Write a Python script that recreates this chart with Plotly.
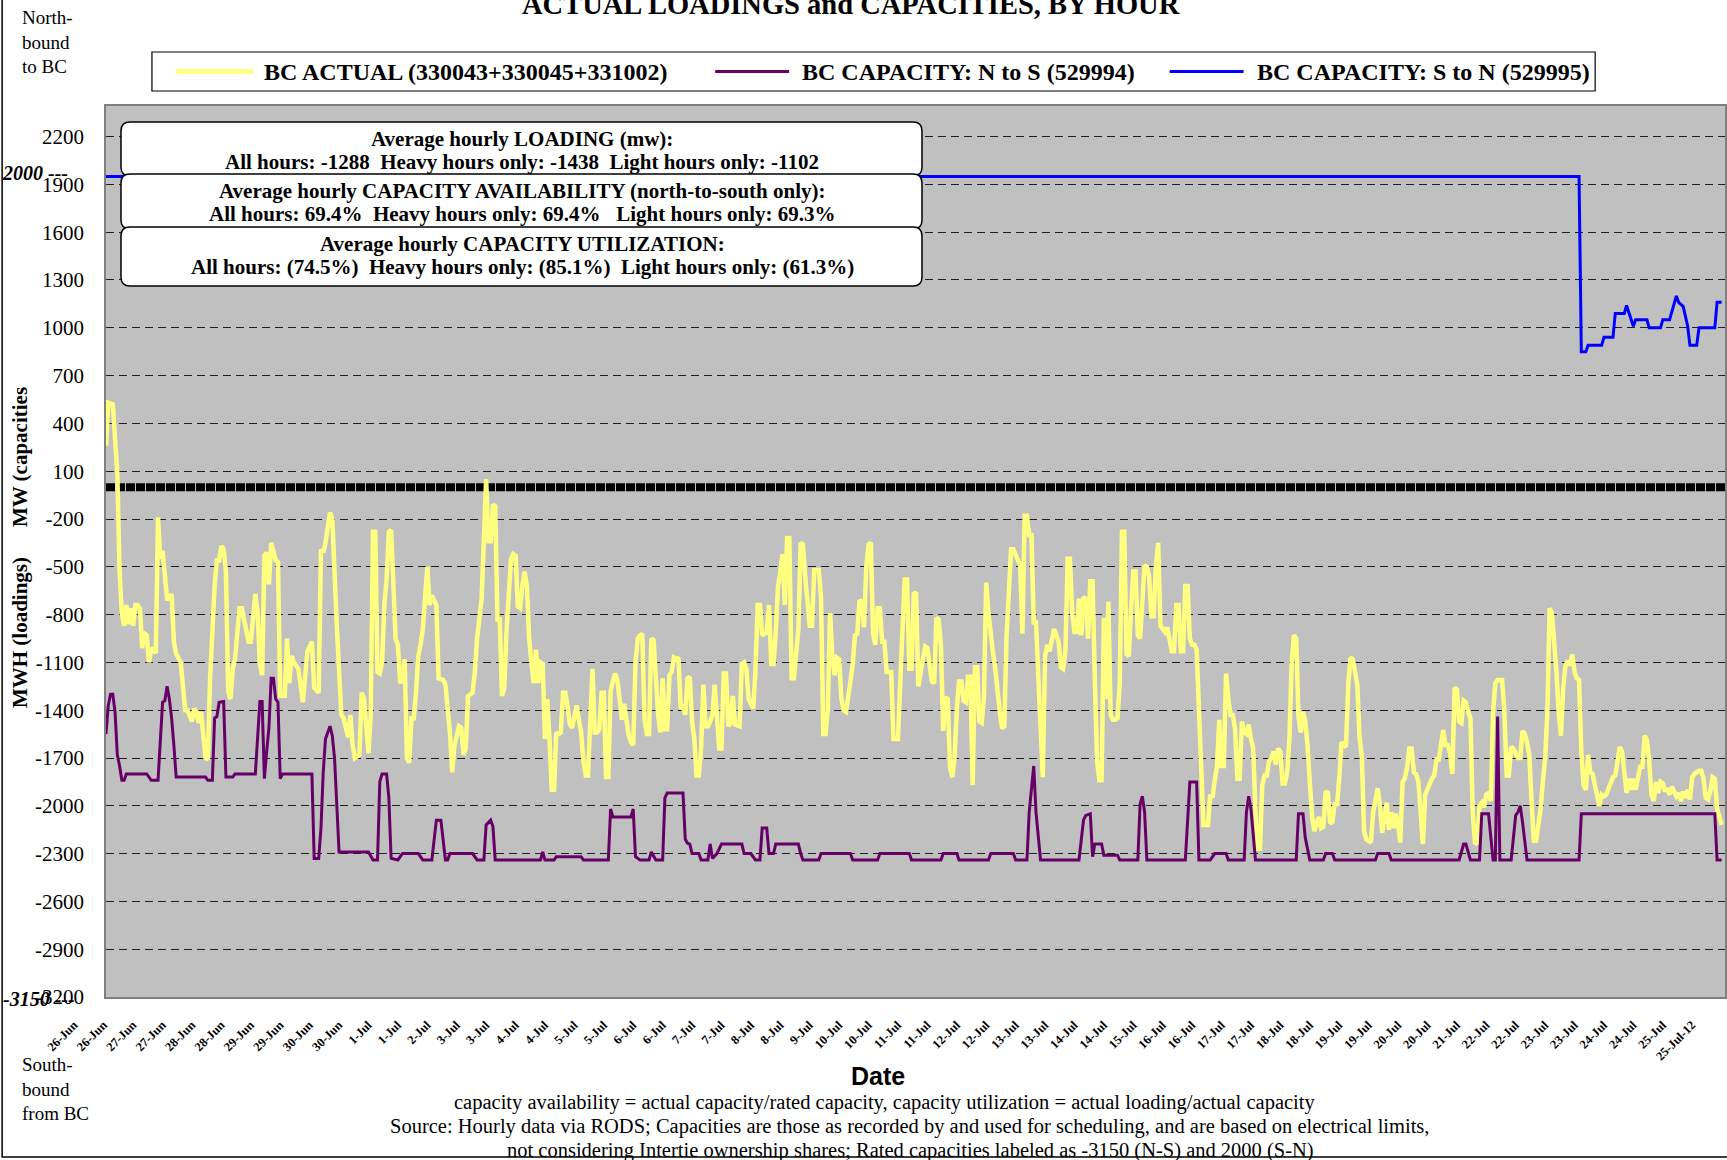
import plotly.graph_objects as go

# ---------------- data ----------------
# hour index from 26-Jun-2012 00:00 ; values in MW
yellow_hours = [
    0, 1, 3, 4, 5, 6, 7, 8, 9, 10, 11, 12, 13, 14, 15, 16, 17, 18, 19, 20, 22, 23, 24, 25, 26, 27, 28, 29, 30, 31,
    33, 34, 35, 36, 38, 39, 40, 41, 42, 44, 45, 46, 47, 48, 49, 50, 51, 52, 53, 54, 55, 56, 57, 58, 59, 60, 62, 63,
    64, 66, 67, 68, 69, 70, 71, 72, 73, 74, 75, 76, 77, 79, 80, 81, 82, 83, 85, 87, 88, 89, 91, 92, 94, 95, 96, 97,
    99, 100, 102, 103, 104, 105, 107, 108, 109, 110, 112, 113, 114, 116, 117, 118, 119, 120, 121, 122, 123, 124,
    125, 126, 127, 128, 129, 130, 131, 132, 133, 134, 135, 136, 137, 138, 139, 140, 142, 143, 144, 146, 147, 149,
    150, 151, 152, 153, 154, 156, 157, 158, 159, 160, 162, 163, 164, 166, 167, 168, 169, 170, 171, 172, 173, 174,
    175, 176, 177, 178, 179, 180, 181, 182, 183, 184, 185, 186, 187, 188, 189, 190, 191, 192, 193, 194, 195, 196,
    197, 198, 199, 200, 201, 202, 203, 204, 205, 206, 208, 209, 210, 211, 212, 213, 214, 215, 216, 217, 218, 219,
    220, 221, 222, 223, 224, 225, 226, 227, 228, 229, 230, 231, 232, 233, 234, 235, 236, 237, 238, 239, 240, 241,
    242, 243, 244, 245, 246, 247, 248, 249, 250, 251, 252, 253, 254, 255, 256, 257, 258, 259, 260, 261, 262, 263,
    264, 265, 266, 267, 268, 269, 270, 271, 272, 273, 274, 275, 276, 277, 278, 280, 281, 282, 283, 284, 285, 286,
    287, 288, 289, 290, 292, 293, 294, 295, 296, 297, 298, 299, 300, 301, 302, 303, 304, 305, 306, 307, 308, 309,
    310, 311, 312, 313, 315, 316, 317, 318, 319, 320, 321, 322, 323, 324, 325, 326, 327, 328, 329, 330, 331, 332,
    333, 334, 335, 336, 337, 338, 339, 340, 341, 342, 343, 344, 345, 347, 348, 350, 351, 352, 353, 354, 355, 356,
    357, 358, 359, 360, 361, 362, 363, 364, 365, 366, 367, 368, 369, 370, 371, 372, 373, 374, 375, 376, 377, 378,
    379, 380, 381, 382, 383, 384, 385, 386, 387, 388, 389, 390, 391, 392, 393, 394, 395, 396, 397, 398, 399, 400,
    401, 403, 404, 405, 406, 407, 408, 409, 410, 411, 412, 413, 414, 415, 416, 417, 419, 421, 422, 423, 424, 425,
    426, 427, 428, 429, 430, 431, 432, 433, 434, 435, 436, 437, 438, 439, 440, 441, 442, 443, 444, 445, 446, 447,
    448, 449, 450, 451, 452, 453, 454, 455, 456, 457, 458, 459, 460, 461, 462, 463, 464, 465, 466, 467, 468, 469,
    470, 471, 472, 473, 474, 475, 476, 477, 478, 479, 480, 481, 482, 483, 484, 485, 486, 487, 488, 489, 490, 491,
    492, 493, 494, 495, 496, 497, 498, 499, 500, 501, 502, 503, 504, 505, 506, 507, 508, 509, 510, 511, 512, 513,
    514, 515, 516, 517, 518, 519, 520, 521, 522, 523, 524, 525, 526, 527, 528, 529, 530, 531, 532, 533, 534, 536,
    537, 538, 539, 540, 541, 542, 543, 544, 545, 546, 547, 548, 549, 550, 551, 553, 554, 555, 556, 557, 558, 559,
    560, 562, 563, 564, 566, 567, 568, 569, 570, 571, 572, 573, 574, 575, 576, 577, 578, 579, 580, 582, 583, 585,
    586, 587, 588, 589, 590, 591, 592, 593, 594, 595, 596, 597, 598, 599, 600, 601, 602, 603, 604, 605, 606, 607,
    608, 609, 610, 611, 612, 613, 614, 615, 617, 618, 619, 620, 621, 622, 624, 625, 626, 627, 628, 629, 630, 631,
    632, 633, 634, 635, 636, 637, 638, 639, 640, 641, 642, 643, 644, 645, 646, 647, 648, 649, 650, 651, 652, 653,
    654, 655, 656, 657, 658, 659, 660, 661, 662, 663, 665, 666, 667, 668, 669, 670, 671, 672, 673, 674, 675, 676,
    678, 679, 680, 681, 682, 683, 684, 685, 686, 687, 688, 689, 690, 691, 692, 694, 695, 696, 697, 698, 699, 700,
    701, 702, 704, 705, 706, 707, 708, 709, 710, 711, 712, 713, 714,
]
yellow_mw = [
    260, 530, 520, 260, 90, -530, -790, -870, -740, -860, -760, -870, -740, -740, -760, -1010, -920, -930, -1100,
    -1010, -1040, -190, -450, -400, -580, -700, -700, -670, -970, -1045, -1100, -1290, -1400, -1400, -1470, -1390,
    -1410, -1480, -1410, -1700, -1710, -1200, -900, -620, -460, -460, -370, -390, -530, -1280, -1330, -1140, -1080,
    -870, -760, -760, -910, -970, -970, -670, -790, -1110, -1180, -430, -410, -610, -350, -410, -460, -470, -1310,
    -1310, -950, -1230, -1060, -1100, -1140, -1350, -1140, -1030, -970, -1260, -1290, -390, -410, -350, -160, -200,
    -870, -1120, -1430, -1450, -1570, -1430, -1620, -1700, -1680, -1290, -1330, -1670, -1430, -280, -280, -1160,
    -1170, -1100, -740, -580, -280, -270, -620, -950, -990, -1220, -1220, -1080, -1700, -1730, -1450, -1450, -1290,
    -1060, -990, -890, -500, -740, -680, -740, -1200, -1210, -1240, -1390, -1540, -1790, -1620, -1500, -1510, -1680,
    -1640, -1310, -1290, -1160, -950, -700, -330, 50, -340, -340, -110, -120, -830, -830, -1310, -1260, -900, -620,
    -450, -420, -430, -750, -760, -620, -530, -620, -950, -1100, -1230, -1020, -1230, -1100, -1110, -1580, -1330,
    -1580, -1900, -1900, -1540, -1550, -1540, -1290, -1290, -1380, -1490, -1510, -1370, -1460, -1540, -1720, -1810,
    -1810, -1540, -1140, -1540, -1540, -1520, -1290, -1290, -1820, -1820, -1280, -1220, -1170, -1210, -1350, -1460,
    -1360, -1480, -1560, -1600, -1620, -1100, -950, -930, -920, -1460, -1550, -1550, -950, -960, -1200, -1430, -1540,
    -1200, -1520, -1520, -1180, -1160, -1070, -1080, -1070, -1390, -1380, -1430, -1200, -1190, -1470, -1580, -1810,
    -1810, -1640, -1240, -1500, -1500, -1470, -1430, -1240, -1410, -1640, -1640, -1170, -1170, -1500, -1480, -1310,
    -1490, -1500, -1110, -1100, -1140, -1330, -1360, -1390, -1160, -740, -740, -930, -910, -740, -1110, -1110, -910,
    -620, -530, -420, -740, -320, -320, -1200, -1200, -1060, -890, -350, -360, -560, -760, -870, -870, -520, -520,
    -690, -1550, -1550, -1390, -790, -1060, -1180, -1070, -1080, -1330, -1400, -1410, -1290, -1220, -1110, -930,
    -920, -710, -720, -880, -500, -360, -350, -920, -990, -760, -760, -970, -970, -1160, -1160, -1580, -1580, -1160,
    -890, -580, -580, -1140, -1140, -670, -660, -1250, -1140, -1080, -1000, -1010, -1120, -1220, -1230, -820, -830,
    -1000, -1530, -1320, -1330, -1760, -1820, -1700, -1390, -1220, -1220, -1340, -1350, -1190, -1190, -1870, -1130,
    -1130, -1470, -1480, -1320, -600, -790, -950, -1040, -1140, -1290, -1410, -1515, -1500, -930, -700, -390, -390,
    -470, -490, -920, -180, -180, -300, -300, -850, -850, -1200, -1470, -1820, -1060, -990, -1030, -890, -970, -1130,
    -1140, -1030, -450, -450, -790, -910, -910, -700, -930, -690, -700, -950, -590, -590, -1200, -1720, -1840, -1840,
    -820, -1330, -720, -1430, -1460, -1460, -1450, -1240, -280, -280, -1050, -1060, -770, -530, -530, -930, -950,
    -660, -490, -500, -560, -810, -810, -490, -350, -870, -890, -910, -880, -970, -1030, -1030, -740, -740, -1030,
    -1030, -620, -620, -950, -990, -990, -1020, -1410, -1700, -2120, -2120, -2120, -1930, -1950, -1840, -1750,
    -1460, -1750, -1750, -1170, -1330, -1430, -1430, -1520, -1830, -1830, -1470, -1540, -1550, -1490, -1580, -1640,
    -2040, -2270, -2270, -1870, -1810, -1810, -1720, -1700, -1660, -1740, -1640, -1660, -1860, -1860, -1790, -1580,
    -1100, -930, -950, -1440, -1540, -1410, -1470, -1620, -1850, -2060, -2160, -2070, -2140, -2130, -1910, -1920,
    -2110, -2100, -1980, -2000, -1830, -1600, -1620, -1630, -1240, -1070, -1080, -1240, -1570, -1690, -2160, -2210,
    -2220, -2230, -2040, -1890, -2000, -2170, -1980, -2150, -2040, -2140, -2050, -2120, -2230, -1850, -1830, -1760,
    -1640, -1640, -1790, -1800, -1850, -2240, -1930, -1860, -1830, -1810, -1710, -1710, -1620, -1525, -1620, -1620,
    -1670, -1800, -1260, -1270, -1470, -1480, -1340, -1350, -1410, -1450, -2040, -2230, -2240, -2000, -1980, -2010,
    -1930, -1920, -1970, -1410, -1230, -1210, -1210, -1410, -1810, -1810, -1630, -1640, -1700, -1700, -1530, -1550,
    -1600, -1680, -1970, -2220, -2220, -2140, -2020, -1850, -1700, -1410, -760, -790, -950, -1160, -1410, -1560,
    -1260, -1120, -1090, -1120, -1050, -1160, -1200, -1210, -1660, -1870, -1900, -1680, -1790, -1800, -1870, -1950,
    -2000, -1930, -1940, -1930, -1860, -1820, -1810, -1700, -1630, -1660, -1790, -1920, -1830, -1900, -1830, -1900,
    -1755, -1755, -1560, -1590, -1720, -1930, -1970, -1850, -1920, -1850, -1860, -1910, -1890, -1930, -1880, -1940,
    -1920, -1970, -1910, -1950, -1900, -1960, -1820, -1800, -1780, -1780, -1830, -1950, -1960, -1910, -1820, -1830,
    -2020, -2060, -2120,
]

purple_hours = [
    0, 1, 2, 3, 4, 5, 6, 7, 8, 9, 18, 20, 23, 24, 25, 26, 27, 28, 29, 30, 31, 44, 45, 47, 48, 49, 50, 52, 53, 56,
    57, 66, 67, 68, 69, 70, 71, 72, 73, 74, 75, 76, 77, 78, 91, 92, 94, 95, 96, 97, 99, 100, 101, 103, 116, 118,
    120, 121, 122, 124, 125, 126, 129, 131, 138, 140, 144, 145, 146, 148, 150, 151, 152, 162, 164, 167, 168, 170,
    171, 172, 192, 193, 194, 198, 199, 210, 211, 222, 223, 224, 232, 233, 234, 236, 240, 241, 243, 246, 247, 248,
    255, 256, 257, 258, 259, 262, 263, 266, 267, 268, 270, 272, 281, 282, 285, 287, 289, 290, 292, 293, 295, 296,
    306, 307, 308, 315, 316, 329, 330, 341, 342, 355, 356, 369, 370, 376, 377, 390, 391, 401, 402, 407, 408, 410,
    411, 413, 430, 432, 433, 435, 436, 437, 440, 441, 447, 448, 456, 457, 458, 459, 460, 477, 479, 482, 483, 488,
    490, 495, 496, 503, 504, 505, 506, 508, 526, 527, 529, 530, 532, 538, 539, 542, 543, 561, 562, 567, 568, 598,
    600, 601, 603, 607, 608, 611, 613, 614, 615, 616, 621, 623, 624, 625, 626, 628, 651, 652, 711, 712, 714,
]
purple_mw = [
    -1550, -1370, -1300, -1300, -1410, -1680, -1750, -1840, -1840, -1800, -1800, -1840, -1840, -1580, -1350, -1340,
    -1250, -1330, -1450, -1620, -1820, -1820, -1840, -1840, -1450, -1440, -1350, -1345, -1820, -1820, -1800, -1800,
    -1600, -1345, -1345, -1830, -1660, -1510, -1200, -1200, -1330, -1350, -1830, -1800, -1800, -2330, -2330, -2140,
    -1790, -1580, -1500, -1560, -1700, -2290, -2290, -2340, -2340, -1850, -1800, -1800, -1950, -2330, -2340, -2300,
    -2300, -2340, -2340, -2200, -2090, -2090, -2340, -2340, -2300, -2300, -2340, -2340, -2120, -2090, -2130, -2340,
    -2340, -2290, -2340, -2340, -2320, -2320, -2340, -2340, -2020, -2070, -2070, -2020, -2320, -2340, -2340, -2290,
    -2340, -2340, -1950, -1920, -1920, -2210, -2235, -2240, -2300, -2300, -2340, -2340, -2240, -2330, -2300, -2240,
    -2240, -2300, -2300, -2340, -2340, -2140, -2140, -2300, -2300, -2240, -2240, -2300, -2340, -2340, -2300, -2300,
    -2340, -2340, -2300, -2300, -2340, -2340, -2300, -2300, -2340, -2340, -2300, -2300, -2340, -2340, -2040, -1750,
    -2040, -2340, -2340, -2090, -2060, -2050, -2320, -2240, -2240, -2310, -2310, -2340, -2340, -1990, -1940, -2040,
    -2340, -2340, -1850, -1850, -2340, -2340, -2300, -2300, -2340, -2340, -2040, -1940, -2020, -2340, -2340, -2050,
    -2050, -2200, -2340, -2340, -2300, -2300, -2340, -2340, -2300, -2300, -2340, -2340, -2240, -2240, -2340, -2340,
    -2050, -2050, -2340, -2340, -1440, -2340, -2340, -2060, -2040, -2000, -2100, -2340, -2340, -2050, -2050, -2340,
    -2340,
]

blue_hours = [0, 651, 652, 654, 655, 661, 662, 666, 667, 671, 672, 673, 675, 676, 681, 682, 687, 688, 691, 692,
              694, 695, 697, 699, 700, 703, 704, 711, 712, 714]
blue_mw = [1950, 1950, 850, 850, 890, 890, 940, 940, 1090, 1090, 1140, 1100, 1010, 1050, 1050, 1000, 1000, 1050,
           1050, 1100, 1200, 1160, 1135, 1010, 890, 890, 1000, 1000, 1160, 1160]

tick_labels = [
    "26-Jun", "26-Jun", "27-Jun", "27-Jun", "28-Jun", "28-Jun", "29-Jun", "29-Jun", "30-Jun", "30-Jun",
    "1-Jul", "1-Jul", "2-Jul", "3-Jul", "3-Jul", "4-Jul", "4-Jul", "5-Jul", "5-Jul", "6-Jul", "6-Jul",
    "7-Jul", "7-Jul", "8-Jul", "8-Jul", "9-Jul", "10-Jul", "10-Jul", "11-Jul", "11-Jul", "12-Jul", "12-Jul",
    "13-Jul", "13-Jul", "14-Jul", "14-Jul", "15-Jul", "16-Jul", "16-Jul", "17-Jul", "17-Jul", "18-Jul",
    "18-Jul", "19-Jul", "19-Jul", "20-Jul", "20-Jul", "21-Jul", "22-Jul", "22-Jul", "23-Jul", "23-Jul",
    "24-Jul", "24-Jul", "25-Jul", "25-Jul-12",
]
tick_step_hours = 13
y_ticks = [-3200, -2900, -2600, -2300, -2000, -1700, -1400, -1100, -800, -500, -200, 100, 400, 700,
           1000, 1300, 1600, 1900, 2200]

series_names = ["BC ACTUAL (330043+330045+331002)", "BC CAPACITY: N to S (529994)",
                "BC CAPACITY: S to N (529995)"]
series_colors = ["#FFFF80", "#660066", "#0000FF"]

box_texts = [
    ("Average hourly LOADING (mw):",
     "All hours: -1288  Heavy hours only: -1438  Light hours only: -1102"),
    ("Average hourly CAPACITY AVAILABILITY (north-to-south only):",
     "All hours: 69.4%  Heavy hours only: 69.4%   Light hours only: 69.3%"),
    ("Average hourly CAPACITY UTILIZATION:",
     "All hours: (74.5%)  Heavy hours only: (85.1%)  Light hours only: (61.3%)"),
]
footer_lines = [
    "capacity availability = actual capacity/rated capacity, capacity utilization = actual loading/actual capacity",
    "Source: Hourly data via RODS; Capacities are those as recorded by and used for scheduling, and are based on electrical limits,",
    "not considering Intertie ownership shares; Rated capacities labeled as -3150 (N-S) and 2000 (S-N)",
]

# ---------------- layout geometry ----------------
W, H = 1727, 1160
L, R, T, B = 106, 0, 106, 163
PW, PH = W - L - R, H - T - B
SERIF = "Liberation Serif"


def px(x):
    return (x - L) / PW


def py(y):
    return 1 - (y - T) / PH


fig = go.Figure()
fig.add_trace(go.Scatter(x=yellow_hours, y=yellow_mw, mode="lines", name=series_names[0],
                         line=dict(color=series_colors[0], width=4.5)))
fig.add_trace(go.Scatter(x=purple_hours, y=purple_mw, mode="lines", name=series_names[1],
                         line=dict(color=series_colors[1], width=3)))
fig.add_trace(go.Scatter(x=blue_hours, y=blue_mw, mode="lines", name=series_names[2],
                         line=dict(color=series_colors[2], width=3)))

shapes = []
annotations = []

# zero reference line (thick black, slightly dotted)
shapes.append(dict(type="line", xref="paper", yref="y", x0=0, x1=1, y0=0, y1=0,
                   line=dict(color="black", width=8, dash="9px,1px"), layer="below"))


def rrect(x0, y0, x1, y1, r):
    pts = [("M", x0 + r, y0), ("L", x1 - r, y0), ("Q", x1, y0, x1, y0 + r), ("L", x1, y1 - r),
           ("Q", x1, y1, x1 - r, y1), ("L", x0 + r, y1), ("Q", x0, y1, x0, y1 - r), ("L", x0, y0 + r),
           ("Q", x0, y0, x0 + r, y0)]
    s = ""
    for p in pts:
        cmd = p[0]
        coords = p[1:]
        parts = []
        for i in range(0, len(coords), 2):
            parts.append(f"{px(coords[i]):.5f},{py(coords[i + 1]):.5f}")
        s += cmd + " " + " ".join(parts) + " "
    return s + "Z"


# text boxes
box_rows = [(122, 176), (174, 229), (227, 286)]
for (y0, y1), (l1, l2) in zip(box_rows, box_texts):
    shapes.append(dict(type="path", xref="paper", yref="paper", path=rrect(121, y0, 923, y1, 9),
                       fillcolor="white", line=dict(color="black", width=1.5), layer="above"))
    annotations.append(dict(xref="paper", yref="paper", x=px(523), y=py(y0 + 17), text=f"<b>{l1}</b>",
                            showarrow=False, xanchor="center", yanchor="middle",
                            font=dict(family=SERIF, size=21, color="black")))
    annotations.append(dict(xref="paper", yref="paper", x=px(523), y=py(y0 + 40), text=f"<b>{l2}</b>",
                            showarrow=False, xanchor="center", yanchor="middle",
                            font=dict(family=SERIF, size=21, color="black")))

# custom legend
shapes.append(dict(type="rect", xref="paper", yref="paper", x0=px(152), x1=px(1597), y0=py(52), y1=py(91),
                   fillcolor="white", line=dict(color="black", width=1.2), layer="above"))
leg_pos = [(176, 253, 262), (716, 790, 801), (1171, 1245, 1256)]
leg_w = [5, 3, 3]
for (s0, s1, tx), name, col, lw in zip(leg_pos, series_names, series_colors, leg_w):
    shapes.append(dict(type="line", xref="paper", yref="paper", x0=px(s0), x1=px(s1), y0=py(71.5), y1=py(71.5),
                       line=dict(color=col, width=lw), layer="above"))
    annotations.append(dict(xref="paper", yref="paper", x=px(tx), y=py(72), text=f"<b>{name}</b>",
                            showarrow=False, xanchor="left", yanchor="middle",
                            font=dict(family=SERIF, size=24, color="black")))

# outer frame
shapes.append(dict(type="rect", xref="paper", yref="paper", x0=px(2), x1=px(1735), y0=py(-10), y1=py(1157),
                   line=dict(color="black", width=1.5), layer="above"))

# title
annotations.append(dict(xref="paper", yref="paper", x=px(852), y=py(4),
                        text="<b>ACTUAL LOADINGS and CAPACITIES, BY HOUR</b>", showarrow=False,
                        xanchor="center", yanchor="middle", font=dict(family=SERIF, size=28.5, color="black")))
# side notes
annotations.append(dict(xref="paper", yref="paper", x=px(20), y=py(42), text="North-<br>bound<br>to BC",
                        showarrow=False, xanchor="left", yanchor="middle", align="left",
                        font=dict(family=SERIF, size=19, color="black")))
annotations.append(dict(xref="paper", yref="paper", x=px(20), y=py(1089), text="South-<br>bound<br>from BC",
                        showarrow=False, xanchor="left", yanchor="middle", align="left",
                        font=dict(family=SERIF, size=19, color="black")))
annotations.append(dict(xref="paper", yref="paper", x=px(0), y=py(173), text="<b><i>2000 ---</i></b>",
                        showarrow=False, xanchor="left", yanchor="middle",
                        font=dict(family=SERIF, size=20, color="black")))
annotations.append(dict(xref="paper", yref="paper", x=px(1), y=py(999), text="<b><i>-3150 ---</i></b>",
                        showarrow=False, xanchor="left", yanchor="middle",
                        font=dict(family=SERIF, size=20, color="black")))
# y-axis titles
annotations.append(dict(xref="paper", yref="paper", x=px(20), y=py(633), text="<b>MWH (loadings)</b>",
                        showarrow=False, textangle=-90, xanchor="center", yanchor="middle",
                        font=dict(family=SERIF, size=21, color="black")))
annotations.append(dict(xref="paper", yref="paper", x=px(20), y=py(457), text="<b>MW (capacities</b>",
                        showarrow=False, textangle=-90, xanchor="center", yanchor="middle",
                        font=dict(family=SERIF, size=21, color="black")))
# x-axis title
annotations.append(dict(xref="paper", yref="paper", x=px(879), y=py(1076), text="<b>Date</b>",
                        showarrow=False, xanchor="center", yanchor="middle",
                        font=dict(family="Liberation Sans", size=25, color="black")))
# footer
for (cx, cy), line in zip([(885, 1102), (910, 1126), (911, 1150)], footer_lines):
    annotations.append(dict(xref="paper", yref="paper", x=px(cx), y=py(cy), text=line, showarrow=False,
                            xanchor="center", yanchor="middle", font=dict(family=SERIF, size=20.5, color="black")))

fig.update_layout(
    width=W, height=H, margin=dict(l=L, r=R, t=T, b=B, pad=0),
    paper_bgcolor="white", plot_bgcolor="#C0C0C0", showlegend=False,
    font=dict(family=SERIF, color="black"),
    shapes=shapes, annotations=annotations,
    xaxis=dict(range=[0, 715.5], tickmode="array",
               tickvals=[i * tick_step_hours for i in range(len(tick_labels))], ticktext=tick_labels,
               tickangle=-45, tickfont=dict(family=SERIF, size=12.5, color="black", weight="bold"),
               showgrid=False, zeroline=False, showline=True, linecolor="#808080", linewidth=1.5, mirror=True,
               ticks="", ticklabelshift=-32, ticklabelstandoff=14),
    yaxis=dict(range=[-3200, 2392], tickmode="array", tickvals=y_ticks, ticktext=[str(v) for v in y_ticks],
               showgrid=True, gridcolor="#202020",
               griddash="8px,5px", gridwidth=1, zeroline=False, showline=True, linecolor="#808080",
               linewidth=1.5, mirror=True, ticks="", ticklabelstandoff=16,
               tickfont=dict(family=SERIF, size=21, color="black")),
)

fig.write_html("out.html", config={"displayModeBar": False},
               post_script="document.body.style.margin='0';")
